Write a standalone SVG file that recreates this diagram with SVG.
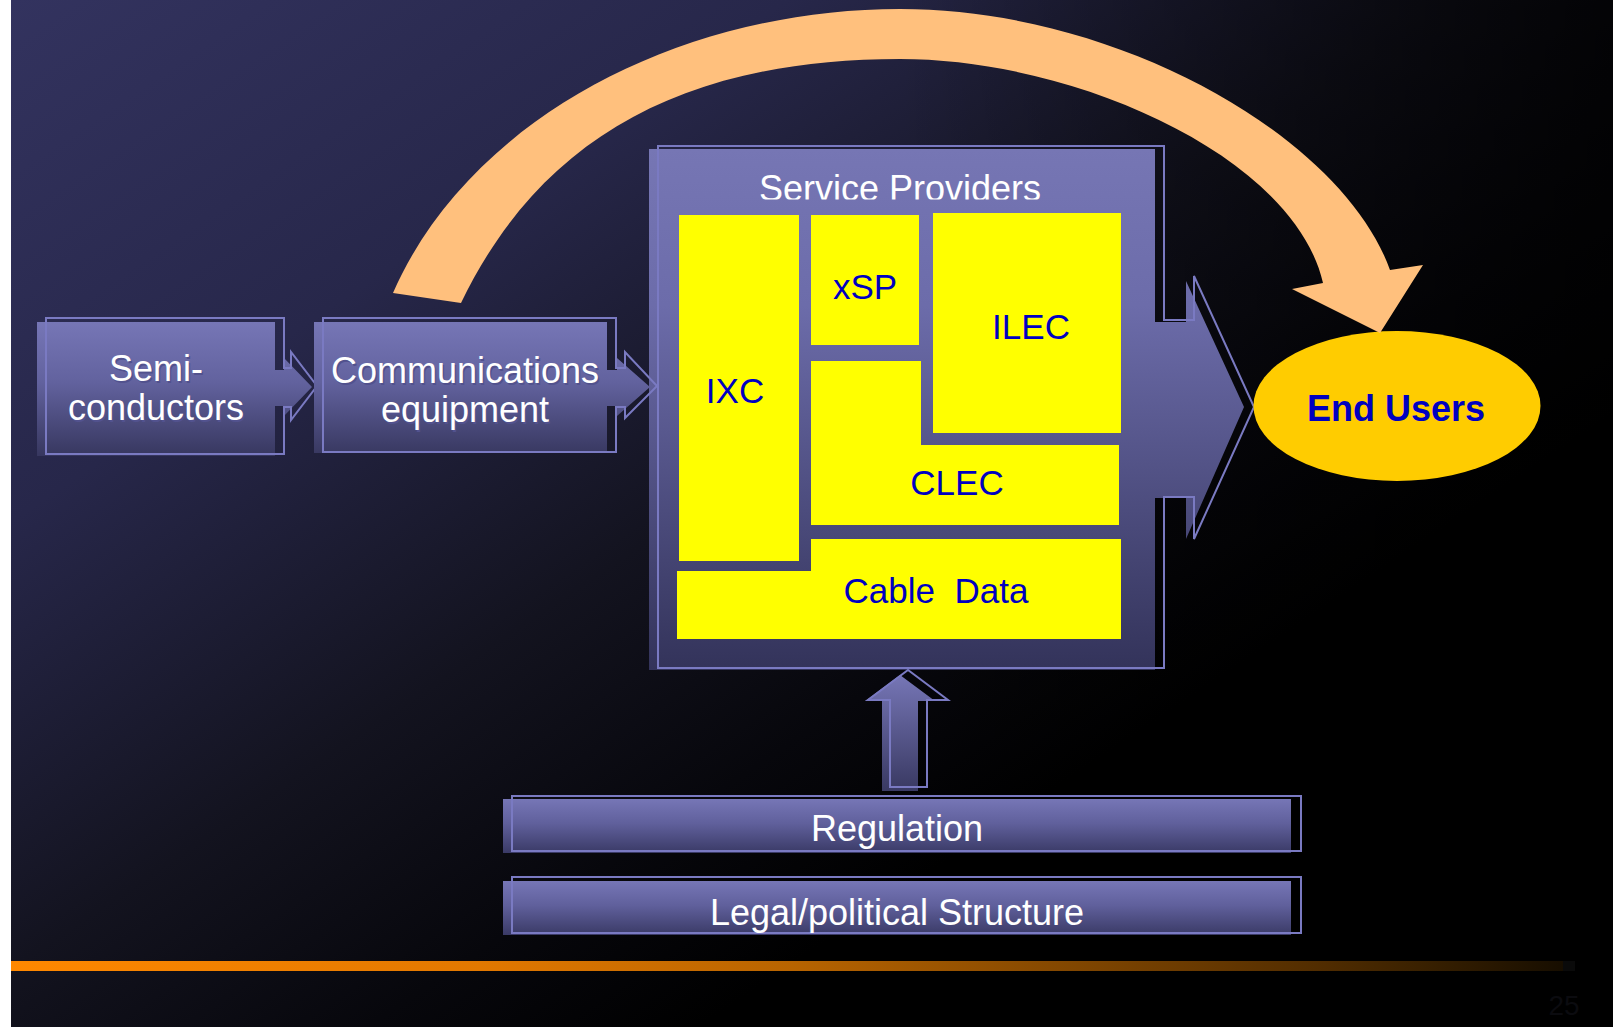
<svg xmlns="http://www.w3.org/2000/svg" width="1613" height="1027" viewBox="0 0 1613 1027">
  <defs>
    <linearGradient id="bg" gradientUnits="userSpaceOnUse" x1="11" y1="0" x2="700" y2="1027">
      <stop offset="0" stop-color="#33335f"/>
      <stop offset="0.35" stop-color="#27274a"/>
      <stop offset="0.65" stop-color="#13131f"/>
      <stop offset="0.85" stop-color="#07070c"/>
      <stop offset="1" stop-color="#000000"/>
    </linearGradient>
    <linearGradient id="bgR" gradientUnits="userSpaceOnUse" x1="900" y1="0" x2="1613" y2="0">
      <stop offset="0" stop-color="#000000" stop-opacity="0"/>
      <stop offset="1" stop-color="#000000" stop-opacity="0.75"/>
    </linearGradient>
    <linearGradient id="bar" gradientUnits="userSpaceOnUse" x1="11" y1="0" x2="1575" y2="0">
      <stop offset="0" stop-color="#ff8800"/>
      <stop offset="0.3" stop-color="#e27800"/>
      <stop offset="0.5" stop-color="#b86400"/>
      <stop offset="0.84" stop-color="#502c00"/>
      <stop offset="0.9" stop-color="#3a2100"/>
      <stop offset="1" stop-color="#140c00"/>
    </linearGradient>
    <linearGradient id="gSemi" gradientUnits="userSpaceOnUse" x1="0" y1="322" x2="0" y2="456">
      <stop offset="0" stop-color="#7676b6"/>
      <stop offset="0.45" stop-color="#62629e"/>
      <stop offset="1" stop-color="#37375f"/>
    </linearGradient>
    <linearGradient id="gSvc" gradientUnits="userSpaceOnUse" x1="0" y1="149" x2="0" y2="670">
      <stop offset="0" stop-color="#7676b4"/>
      <stop offset="0.3" stop-color="#6c6caa"/>
      <stop offset="1" stop-color="#33335a"/>
    </linearGradient>
    <linearGradient id="gUp" gradientUnits="userSpaceOnUse" x1="0" y1="675" x2="0" y2="791">
      <stop offset="0" stop-color="#7676b6"/>
      <stop offset="1" stop-color="#393962"/>
    </linearGradient>
    <linearGradient id="gReg" gradientUnits="userSpaceOnUse" x1="0" y1="799" x2="0" y2="853">
      <stop offset="0" stop-color="#7676b6"/>
      <stop offset="0.45" stop-color="#60609c"/>
      <stop offset="1" stop-color="#3a3a66"/>
    </linearGradient>
    <linearGradient id="gLeg" gradientUnits="userSpaceOnUse" x1="0" y1="881" x2="0" y2="935">
      <stop offset="0" stop-color="#7676b6"/>
      <stop offset="0.45" stop-color="#60609c"/>
      <stop offset="1" stop-color="#3a3a66"/>
    </linearGradient>
    <clipPath id="clipTitle">
      <rect x="650" y="150" width="500" height="49.5"/>
    </clipPath>
    <style>
      .outline { fill: none; stroke: #7a7ac2; stroke-width: 2; }
      .wt { font-family: "Liberation Sans", Arial, sans-serif; font-size: 36px; fill: #ffffff; text-anchor: middle; }
      .sh { font-family: "Liberation Sans", Arial, sans-serif; font-size: 36px; fill: #52528e; text-anchor: middle; }
      .bt { font-family: "Liberation Sans", Arial, sans-serif; font-size: 35px; fill: #0000c0; text-anchor: middle; }
      .yel { fill: #ffff00; }
    </style>
  </defs>

  <rect x="0" y="0" width="1613" height="1027" fill="#ffffff"/>
  <rect x="11" y="0" width="1602" height="1027" fill="url(#bg)"/>
  <rect x="11" y="0" width="1602" height="1027" fill="url(#bgR)"/>
  <rect x="11" y="961" width="1564" height="10" fill="url(#bar)"/>
  <rect x="1563" y="961" width="12" height="10" fill="#0a0a0a"/>
  <text x="1564" y="1015" font-family="Liberation Sans, Arial, sans-serif" font-size="28" fill="#0b0b0f" text-anchor="middle">25</text>

  <g id="service-providers">
    <path d="M649,149 H1155 V322 H1186 V281 L1244,407 L1186,539 V498 H1155 V670 H649 Z" fill="url(#gSvc)"/>
    <path class="outline" d="M658,146 H1164 V320 H1194 V276 L1254,407 L1194,539 V497 H1164 V668 H658 Z"/>
    <text class="wt" x="900" y="201" clip-path="url(#clipTitle)">Service Providers</text>
    <g id="ixc">
      <rect class="yel" x="679" y="215" width="120" height="346"/>
      <text class="bt" x="735" y="403">IXC</text>
    </g>
    <g id="xsp">
      <rect class="yel" x="811" y="215" width="108" height="130"/>
      <text class="bt" x="865" y="299">xSP</text>
    </g>
    <g id="ilec">
      <rect class="yel" x="933" y="213" width="188" height="220"/>
      <text class="bt" x="1031" y="339">ILEC</text>
    </g>
    <g id="clec">
      <path class="yel" d="M811,361 H921 V445 H1119 V525 H811 Z"/>
      <text class="bt" x="957" y="495">CLEC</text>
    </g>
    <g id="cable-data">
      <path class="yel" d="M811,539 H1121 V639 H677 V571 H811 Z"/>
      <text class="bt" x="936" y="603" xml:space="preserve">Cable  Data</text>
    </g>
  </g>

  <g id="semiconductors">
    <path d="M37,322 H275 V370 H284 V358 L312,387 L284,416 V406 H275 V456 H37 Z" fill="url(#gSemi)"/>
    <path class="outline" d="M46,318 H284 V368 H291 V352 L317,386 L291,420 V407 H284 V454 H46 Z"/>
    <text class="sh" x="157.5" y="382.5">Semi-</text>
    <text class="wt" x="156" y="381">Semi-</text>
    <text class="sh" x="157.5" y="421.5">conductors</text>
    <text class="wt" x="156" y="420">conductors</text>
  </g>

  <g id="communications-equipment">
    <path d="M314,322 H607 V370 H617 V358 L650,387 L617,416 V406 H607 V453 H314 Z" fill="url(#gSemi)"/>
    <path class="outline" d="M323,318 H616 V368 H625 V352 L657,386 L625,418 V407 H616 V452 H323 Z"/>
    <text class="sh" x="466.5" y="384.5">Communications</text>
    <text class="wt" x="465" y="383">Communications</text>
    <text class="sh" x="466.5" y="423.5">equipment</text>
    <text class="wt" x="465" y="422">equipment</text>
  </g>

  <g id="end-users">
    <ellipse cx="1397" cy="406" rx="143.5" ry="75" fill="#ffcc00"/>
    <text x="1396" y="421" font-family="Liberation Sans, Arial, sans-serif" font-size="36" font-weight="bold" fill="#0000c0" text-anchor="middle">End Users</text>
  </g>

  <g id="regulation">
    <rect x="503" y="799" width="788" height="54" fill="url(#gReg)"/>
    <rect class="outline" x="512" y="796" width="789" height="55"/>
    <text class="wt" x="897" y="841">Regulation</text>
  </g>

  <g id="legal-political-structure">
    <rect x="503" y="881" width="788" height="54" fill="url(#gLeg)"/>
    <rect class="outline" x="512" y="877" width="789" height="56"/>
    <text class="wt" x="897" y="925">Legal/political Structure</text>
  </g>

  <g id="connectors">
    <path d="M393,293 C469,119 680,9 900,9 C1120,9 1343,138 1390,270 L1423,265 L1380,333 L1292,289 L1323,283 C1294,156 1075,59 900,59 C680,59 539,141 461,303 Z" fill="#ffc07d"/>
    <path d="M882,791 V701 H865 L900,675 L935,701 H918 V791 Z" fill="url(#gUp)"/>
    <path class="outline" d="M890,787 V700 H868 L908,670 L948,700 H927 V787 Z"/>
  </g>
</svg>
